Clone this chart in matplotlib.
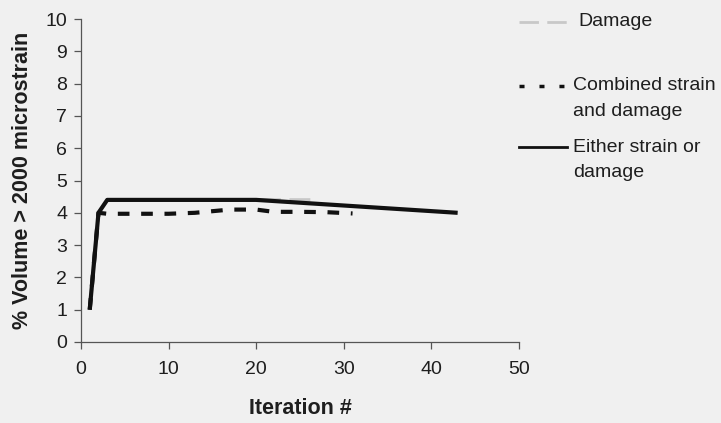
import matplotlib
matplotlib.use("Agg")
import matplotlib.pyplot as plt
from matplotlib.lines import Line2D

plt.rcParams['font.family'] = ['Liberation Sans', 'DejaVu Sans']

# Iteration history of the volume fraction above 2000 microstrain
damage_x = [1, 2, 3, 20, 24, 27]
damage_y = [1.0, 4.0, 4.4, 4.4, 4.4, 4.4]

combined_x = [1, 2, 3, 5, 10, 13, 15, 17, 20, 22, 25, 28, 31]
combined_y = [1.0, 4.0, 3.97, 3.97, 3.97, 4.0, 4.05, 4.1, 4.1, 4.03, 4.03, 4.02, 3.98]

either_x = [1, 2, 3, 20, 43]
either_y = [1.0, 4.0, 4.4, 4.4, 4.0]

x_ticks = [0, 10, 20, 30, 40, 50]
y_ticks = list(range(0, 11))

labels = ["Damage", "Combined strain\nand damage", "Either strain or\ndamage"]

bg = "#f0f0f0"
ink = "#1e1e1e"
fig = plt.figure(figsize=(7.21, 4.23), dpi=100, facecolor=bg)
ax = fig.add_axes([0.1123, 0.1915, 0.6075, 0.7635], facecolor=bg)

ax.plot(damage_x, damage_y, color="#c8c8c8", lw=2.5, dashes=(6, 2.5), zorder=2)
ax.plot(combined_x, combined_y, color="#111111", lw=3.0, dashes=(2.8, 2.8), zorder=3)
ax.plot(either_x, either_y, color="#111111", lw=3.0, solid_capstyle="butt", zorder=4)

ax.set_xlim(0, 50)
ax.set_ylim(0, 10)
ax.set_xticks(x_ticks)
ax.set_yticks(y_ticks)
for s in ("top", "right"):
    ax.spines[s].set_visible(False)
for s in ("left", "bottom"):
    ax.spines[s].set_color("#555555")
    ax.spines[s].set_linewidth(0.9)
ax.tick_params(direction="out", length=5, width=0.9, color="#555555",
               labelsize=14, labelcolor=ink, pad=5)
ax.tick_params(axis="x", pad=9)

ax.set_xlabel("Iteration #", fontsize=15.5, fontweight="bold", labelpad=14, color=ink)
ax.set_ylabel("% Volume > 2000 microstrain", fontsize=15.5, fontweight="bold",
              labelpad=9, color=ink)

# Legend beside the plot: sample line next to the first line of each label
tr = fig.transFigure
W, H = 721.0, 423.0
entries = [
    (22, 578, dict(color="#c8c8c8", lw=2.0, dashes=(7, 3))),
    (86, 573, dict(color="#111111", lw=2.5, dashes=(1.45, 4.3))),
    (147, 573, dict(color="#111111", lw=2.0)),
]
for (ypix, xtext, style), text in zip(entries, labels):
    yf = 1 - ypix / H
    fig.add_artist(Line2D([519 / W, 567 / W], [yf, yf], transform=tr, **style))
    for i, line in enumerate(text.split("\n")):
        fig.text(xtext / W, 1 - (ypix + 25.5 * i) / H, line, fontsize=14,
                 va="center", ha="left", color=ink)

fig.savefig("out.png", dpi=100, facecolor=bg)
